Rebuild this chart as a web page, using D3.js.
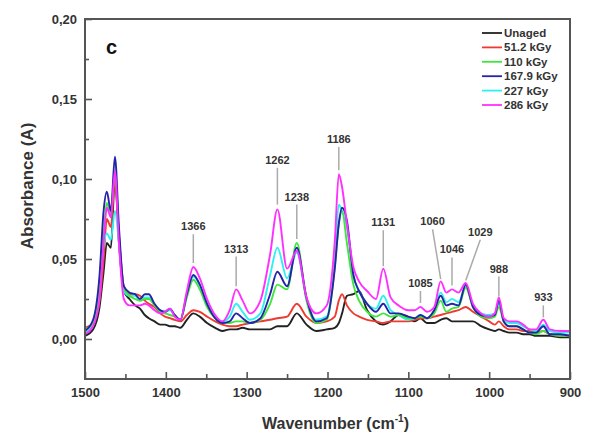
<!DOCTYPE html>
<html>
<head>
<meta charset="utf-8">
<script src="https://cdn.jsdelivr.net/npm/d3@7"></script>
<style>
  body { margin: 0; background: #fff; }
  text { font-family: Arial, "Liberation Sans", sans-serif; }
</style>
</head>
<body>
<div id="chart"></div>
<script>
// wavenumber grid (cm-1) shared by all spectra
const wavenumbers = [1500, 1490, 1482, 1477, 1473, 1468, 1463, 1458, 1452, 1445, 1438, 1432, 1426, 1421, 1414, 1407, 1401, 1395, 1389, 1382,
  1374, 1366, 1358, 1349, 1339, 1330, 1321, 1313, 1305, 1296, 1283, 1271, 1262, 1250, 1238, 1226, 1214, 1201, 1191, 1186,
  1182, 1176, 1168, 1161, 1151, 1140, 1131, 1122, 1112, 1100, 1092, 1085, 1077, 1068, 1060, 1053, 1046, 1038, 1029, 1020,
  1010, 1000, 993, 988, 982, 975, 966, 958, 950, 942, 933, 925, 912, 900];

const unaged = [0.002, 0.006, 0.020, 0.042, 0.060, 0.057, 0.100, 0.060, 0.030, 0.025, 0.021, 0.019, 0.015, 0.013, 0.011, 0.009, 0.009, 0.008, 0.008, 0.007,
  0.012, 0.016, 0.014, 0.010, 0.007, 0.005, 0.006, 0.006, 0.007, 0.006, 0.006, 0.006, 0.008, 0.008, 0.016, 0.009, 0.005, 0.006, 0.007, 0.010,
  0.016, 0.027, 0.028, 0.030, 0.018, 0.011, 0.009, 0.011, 0.015, 0.013, 0.011, 0.013, 0.010, 0.010, 0.012, 0.013, 0.011, 0.011, 0.011, 0.011,
  0.008, 0.006, 0.005, 0.006, 0.005, 0.004, 0.004, 0.003, 0.003, 0.002, 0.002, 0.002, 0.001, 0.001];

const kGy51 = [0.007, 0.010, 0.024, 0.050, 0.075, 0.070, 0.100, 0.065, 0.033, 0.028, 0.028, 0.027, 0.024, 0.022, 0.020, 0.016, 0.014, 0.013, 0.012, 0.011,
  0.015, 0.018, 0.017, 0.014, 0.011, 0.009, 0.008, 0.008, 0.009, 0.010, 0.011, 0.012, 0.013, 0.014, 0.022, 0.014, 0.010, 0.011, 0.014, 0.024,
  0.028, 0.021, 0.016, 0.014, 0.012, 0.011, 0.010, 0.011, 0.011, 0.011, 0.012, 0.013, 0.013, 0.014, 0.015, 0.016, 0.017, 0.018, 0.020, 0.017,
  0.014, 0.011, 0.009, 0.011, 0.008, 0.006, 0.006, 0.005, 0.005, 0.004, 0.005, 0.003, 0.002, 0.002];

const kGy110 = [0.006, 0.010, 0.030, 0.065, 0.085, 0.078, 0.105, 0.065, 0.032, 0.027, 0.025, 0.024, 0.025, 0.025, 0.021, 0.017, 0.016, 0.015, 0.014, 0.012,
  0.026, 0.037, 0.031, 0.020, 0.013, 0.010, 0.010, 0.011, 0.011, 0.010, 0.012, 0.022, 0.034, 0.031, 0.060, 0.024, 0.010, 0.012, 0.045, 0.072,
  0.080, 0.060, 0.034, 0.024, 0.017, 0.014, 0.016, 0.014, 0.015, 0.013, 0.013, 0.014, 0.013, 0.016, 0.024, 0.017, 0.019, 0.020, 0.032, 0.020,
  0.014, 0.013, 0.014, 0.020, 0.011, 0.008, 0.008, 0.006, 0.004, 0.003, 0.005, 0.003, 0.002, 0.002];

const kGy168 = [0.005, 0.012, 0.040, 0.080, 0.092, 0.080, 0.114, 0.070, 0.033, 0.029, 0.028, 0.025, 0.028, 0.028, 0.022, 0.018, 0.017, 0.019, 0.015, 0.012,
  0.028, 0.040, 0.034, 0.022, 0.013, 0.010, 0.011, 0.016, 0.013, 0.010, 0.013, 0.028, 0.042, 0.033, 0.057, 0.026, 0.011, 0.013, 0.044, 0.072,
  0.082, 0.074, 0.040, 0.030, 0.022, 0.017, 0.022, 0.016, 0.016, 0.014, 0.013, 0.015, 0.013, 0.018, 0.027, 0.021, 0.022, 0.021, 0.034, 0.020,
  0.015, 0.014, 0.015, 0.024, 0.011, 0.008, 0.008, 0.006, 0.004, 0.004, 0.008, 0.003, 0.003, 0.002];

const kGy227 = [0.004, 0.010, 0.032, 0.058, 0.066, 0.062, 0.080, 0.060, 0.030, 0.027, 0.027, 0.024, 0.026, 0.026, 0.021, 0.018, 0.017, 0.018, 0.015, 0.012,
  0.028, 0.039, 0.034, 0.023, 0.014, 0.011, 0.014, 0.022, 0.017, 0.012, 0.016, 0.040, 0.057, 0.038, 0.054, 0.025, 0.012, 0.014, 0.050, 0.084,
  0.080, 0.070, 0.040, 0.030, 0.022, 0.019, 0.027, 0.018, 0.015, 0.012, 0.013, 0.015, 0.013, 0.018, 0.029, 0.023, 0.025, 0.023, 0.033, 0.021,
  0.016, 0.015, 0.016, 0.022, 0.012, 0.010, 0.010, 0.008, 0.006, 0.005, 0.009, 0.005, 0.004, 0.004];

const kGy286 = [0.003, 0.008, 0.025, 0.060, 0.082, 0.076, 0.105, 0.060, 0.025, 0.021, 0.021, 0.021, 0.022, 0.021, 0.018, 0.016, 0.017, 0.019, 0.014, 0.012,
  0.030, 0.045, 0.038, 0.025, 0.015, 0.011, 0.018, 0.031, 0.024, 0.016, 0.024, 0.053, 0.081, 0.044, 0.055, 0.026, 0.016, 0.021, 0.061, 0.103,
  0.095, 0.072, 0.045, 0.036, 0.030, 0.025, 0.044, 0.026, 0.021, 0.018, 0.018, 0.020, 0.017, 0.020, 0.036, 0.029, 0.031, 0.029, 0.035, 0.022,
  0.016, 0.014, 0.016, 0.026, 0.013, 0.011, 0.011, 0.009, 0.006, 0.006, 0.012, 0.006, 0.005, 0.005];

const seriesNames = ["Unaged", "51.2 kGy", "110 kGy", "167.9 kGy", "227 kGy", "286 kGy"];
const seriesValues = [unaged, kGy51, kGy110, kGy168, kGy227, kGy286];
const seriesColors = ["#222222", "#ee3a30", "#3ee63e", "#2424a8", "#2ef0f0", "#ff30ff"];

// peak annotations: band, where the label sits, where the leader line ends
const peakBands = [1366, 1313, 1262, 1238, 1186, 1131, 1085, 1060, 1046, 1029, 988, 933];
const peakLabelWn = [1366, 1313, 1262, 1238, 1186, 1131, 1085, 1070, 1046, 1011, 988, 933];
const peakLabelA = [0.068, 0.054, 0.1095, 0.0865, 0.1225, 0.0705, 0.0325, 0.071, 0.0535, 0.0645, 0.0415, 0.0235];
const peakTipA = [0.0475, 0.033, 0.084, 0.0625, 0.1055, 0.0455, 0.0225, 0.0375, 0.0335, 0.0365, 0.0265, 0.0135];

const yMajor = [0, 0.05, 0.10, 0.15, 0.20];
const yMinor = [0.025, 0.075, 0.125, 0.175];
const xMajor = [1500, 1400, 1300, 1200, 1100, 1000, 900];
const xMinor = [1450, 1350, 1250, 1150, 1050, 950];

const W = 590, H = 437;
const margin = {top: 19, right: 20, bottom: 58, left: 85};
const width = W - margin.left - margin.right;
const height = H - margin.top - margin.bottom;

const svg = d3.select("#chart").append("svg")
    .attr("width", W)
    .attr("height", H);

const g = svg.append("g")
    .attr("transform", "translate(" + margin.left + "," + margin.top + ")");

const x = d3.scaleLinear().domain([1500, 900]).range([0, width]);
const y = d3.scaleLinear().domain([-0.025, 0.20]).range([height, 0]);

const comma = d3.formatLocale({decimal: ",", thousands: ".", grouping: [3], currency: ["", ""]}).format(".2f");

// spectra
const line = d3.line()
    .x((d, i) => x(wavenumbers[i]))
    .y(d => y(d))
    .curve(d3.curveMonotoneX);

g.append("clipPath").attr("id", "clip")
    .append("rect").attr("width", width).attr("height", height);

const drawOrder = [0, 1, 4, 2, 3, 5];
g.append("g").attr("clip-path", "url(#clip)")
  .selectAll("path")
  .data(drawOrder)
  .enter().append("path")
    .attr("d", i => line(seriesValues[i]))
    .attr("fill", "none")
    .attr("stroke", i => seriesColors[i])
    .attr("stroke-width", 1.9)
    .attr("stroke-linejoin", "round");

// axes (ticks pointing inward)
const axisColor = "#555";
const yAxis = g.append("g")
    .call(d3.axisLeft(y).tickValues(yMajor).tickSize(-7).tickPadding(8).tickFormat(comma));
const yAxisMinor = g.append("g")
    .call(d3.axisLeft(y).tickValues(yMinor).tickSize(-4).tickFormat(""));
const xAxis = g.append("g")
    .attr("transform", "translate(0," + height + ")")
    .call(d3.axisBottom(x).tickValues(xMajor).tickSize(-7).tickPadding(9).tickFormat(d3.format("d")));
const xAxisMinor = g.append("g")
    .attr("transform", "translate(0," + height + ")")
    .call(d3.axisBottom(x).tickValues(xMinor).tickSize(-5).tickFormat(""));

[yAxis, yAxisMinor, xAxis, xAxisMinor].forEach(a => {
    a.select(".domain").remove();
    a.selectAll("line").attr("stroke", axisColor).attr("stroke-width", 1.6);
    a.selectAll("text")
        .attr("fill", "#333")
        .attr("font-size", 13)
        .attr("font-weight", "bold");
});

g.append("rect")
    .attr("width", width)
    .attr("height", height)
    .attr("fill", "none")
    .attr("stroke", axisColor)
    .attr("stroke-width", 2);

// peak labels
const peaks = g.append("g");
peakBands.forEach((band, i) => {
    peaks.append("line")
        .attr("x1", x(peakLabelWn[i]))
        .attr("y1", y(peakLabelA[i]) + 4)
        .attr("x2", x(band))
        .attr("y2", y(peakTipA[i]))
        .attr("stroke", "#aaa")
        .attr("stroke-width", 1.5);
    peaks.append("text")
        .attr("x", x(peakLabelWn[i]))
        .attr("y", y(peakLabelA[i]))
        .attr("text-anchor", "middle")
        .attr("font-size", 11)
        .attr("font-weight", "bold")
        .attr("fill", "#333")
        .text(band);
});

// legend
const legend = g.append("g").attr("transform", "translate(" + (482 - margin.left) + "," + (33 - margin.top) + ")");
seriesNames.forEach((name, i) => {
    const row = legend.append("g").attr("transform", "translate(0," + i * 14.4 + ")");
    row.append("line")
        .attr("x1", 0).attr("x2", 20)
        .attr("stroke", seriesColors[i])
        .attr("stroke-width", 1.8);
    row.append("text")
        .attr("x", 22)
        .attr("dy", "0.35em")
        .attr("font-size", 11.5)
        .attr("font-weight", "bold")
        .attr("fill", "#333")
        .text(name);
});

// panel letter
svg.append("text")
    .attr("x", 106)
    .attr("y", 54)
    .attr("font-size", 20)
    .attr("font-weight", "bold")
    .attr("fill", "#111")
    .text("c");

// axis titles
svg.append("text")
    .attr("transform", "translate(33,186) rotate(-90)")
    .attr("text-anchor", "middle")
    .attr("font-size", 17)
    .attr("font-weight", "bold")
    .attr("fill", "#333")
    .text("Absorbance (A)");

const xTitle = svg.append("text")
    .attr("x", margin.left + width / 2 + 8)
    .attr("y", 429)
    .attr("text-anchor", "middle")
    .attr("font-size", 16)
    .attr("font-weight", "bold")
    .attr("fill", "#333");
xTitle.append("tspan").text("Wavenumber (cm");
xTitle.append("tspan").attr("dy", -7).attr("font-size", 10).text("-1");
xTitle.append("tspan").attr("dy", 7).text(")");
</script>
</body>
</html>
